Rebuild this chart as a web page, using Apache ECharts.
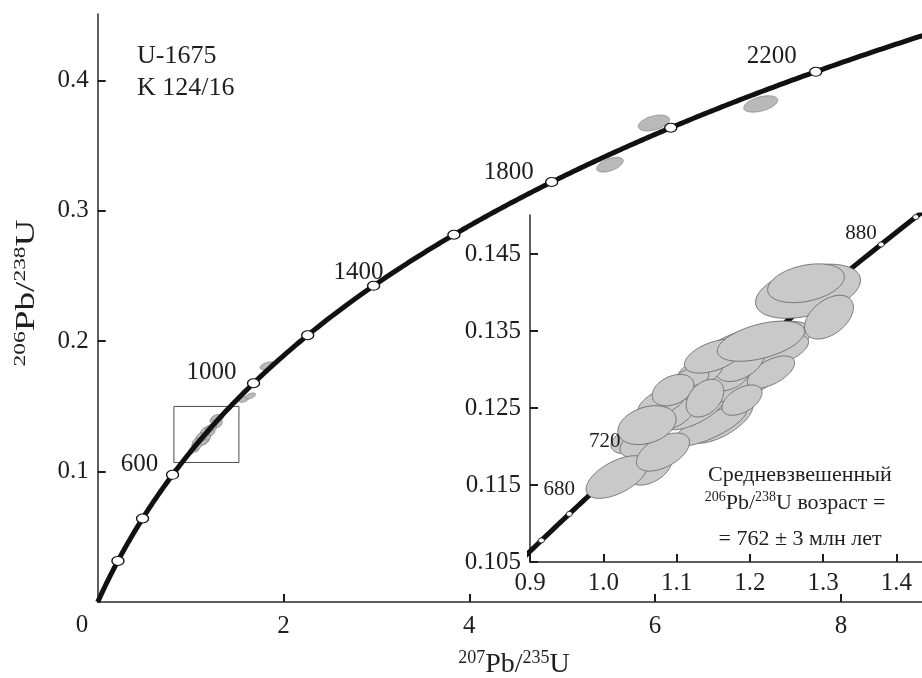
<!DOCTYPE html>
<html>
<head>
<meta charset="utf-8">
<script src="https://cdn.jsdelivr.net/npm/echarts@6/dist/echarts.min.js"></script>
<style>
  html, body { margin: 0; padding: 0; background: #ffffff; }
  #chart { width: 922px; height: 678px; }
</style>
</head>
<body>
<div id="chart"></div>
<script>
// ---- Concordia age marks, Ma (the 800 Ma mark lies under the grain cluster) ----
const mainAges = [200, 400, 600, 1000, 1200, 1400, 1600, 1800, 2000, 2200];
const mainLabelledAges = [600, 1000, 1400, 1800, 2200];
const insetAges = [660, 680, 700, 720, 740, 760, 780, 800, 820, 840, 860, 880, 900];
const insetLabelledAges = [680, 720, 880];

// ---- Zircon analyses inside the enlarged window (drawn back to front) ----
// 207Pb/235U, 206Pb/238U, their 2-sigma errors and the error correlation
const grainX   = [1.2793, 1.2029, 1.2411, 1.1592, 1.1456, 1.1251, 1.2070, 1.1688, 1.2288, 1.1892, 1.1742, 1.1865, 1.1319, 1.1183, 1.1510, 1.1128, 1.0883, 1.0801, 1.0951, 1.0392, 1.0542, 1.0637, 1.0187, 1.0814, 1.0596, 1.1387, 1.2151, 1.3079, 1.2765];
const grainY   = [0.14019, 0.13279, 0.13253, 0.12344, 0.12266, 0.12474, 0.12864, 0.12799, 0.12968, 0.12604, 0.12929, 0.13097, 0.12968, 0.12864, 0.13175, 0.12565, 0.12409, 0.12578, 0.12734, 0.12084, 0.12045, 0.11721, 0.11604, 0.11929, 0.12279, 0.12630, 0.13370, 0.13682, 0.14123];
const grainSx  = [0.0716, 0.0809, 0.0389, 0.0451, 0.0499, 0.0418, 0.0341, 0.0380, 0.0323, 0.0273, 0.0275, 0.0337, 0.0318, 0.0255, 0.0403, 0.0365, 0.0361, 0.0329, 0.0284, 0.0288, 0.0314, 0.0299, 0.0422, 0.0362, 0.0397, 0.0257, 0.0596, 0.0333, 0.0523];
const grainSy  = [0.00352, 0.00351, 0.00207, 0.00300, 0.00261, 0.00255, 0.00226, 0.00233, 0.00210, 0.00197, 0.00204, 0.00251, 0.00206, 0.00170, 0.00220, 0.00244, 0.00217, 0.00201, 0.00204, 0.00176, 0.00191, 0.00222, 0.00277, 0.00247, 0.00253, 0.00245, 0.00261, 0.00284, 0.00252];
const grainRho = [0.41, 0.63, 0.52, 0.63, 0.76, 0.68, 0.64, 0.54, 0.58, 0.49, 0.43, 0.43, 0.47, 0.44, 0.49, 0.63, 0.46, 0.55, 0.34, 0.38, 0.39, 0.44, 0.57, 0.51, 0.30, 0.37, 0.49, 0.45, 0.33];

// ---- Older grains, outside the enlarged window ----
const oldX   = [1.828, 1.575, 1.645, 5.514, 5.987, 7.137];
const oldY   = [0.1811, 0.1554, 0.1581, 0.3354, 0.3674, 0.3820];
const oldSx  = [0.081, 0.054, 0.054, 0.143, 0.168, 0.183];
const oldSy  = [0.0031, 0.0023, 0.0023, 0.0057, 0.0061, 0.0063];
const oldRho = [0.43, 0.50, 0.50, 0.52, 0.42, 0.46];

// ---- Frame of the enlarged window on the main plot ----
const windowX = [0.82, 1.52];
const windowY = [0.107, 0.150];

// ---- Axis ticks ----
const mainXTicks = [2, 4, 6, 8];
const mainYTicks = [0.1, 0.2, 0.3, 0.4];
const insetXTicks = [0.9, 1.0, 1.1, 1.2, 1.3, 1.4];
const insetYTicks = [0.105, 0.115, 0.125, 0.135, 0.145];

// Decay constants (per Ma) defining the Wetherill concordia
const L238 = 1.55125e-4;
const L235 = 9.8485e-4;
function concordia(t) {
  return [Math.exp(L235 * t) - 1, Math.exp(L238 * t) - 1];
}
function curve(t0, t1, step) {
  const pts = [];
  for (let t = t0; t <= t1 + 1e-9; t += step) pts.push(concordia(t));
  return pts;
}

const serif = "'Liberation Serif', 'Times New Roman', serif";
const ink = '#1e1e1e';

function zip5(a, b, c, d, e) {
  return a.map((v, i) => [v, b[i], c[i], d[i], e[i]]);
}
const grains = zip5(grainX, grainY, grainSx, grainSy, grainRho);
const oldGrains = zip5(oldX, oldY, oldSx, oldSy, oldRho);

// Error ellipse from centre, 2-sigma half-extents and correlation
function ellipseRenderer(fill, stroke, lw) {
  return function (params, api) {
    const cx = api.value(0), cy = api.value(1);
    const sx = api.value(2), sy = api.value(3), r = api.value(4);
    const k = Math.sqrt(1 - r * r);
    const pts = [];
    const n = 90;
    for (let i = 0; i < n; i++) {
      const th = (i / n) * Math.PI * 2;
      const c = Math.cos(th), s = Math.sin(th);
      pts.push(api.coord([cx + sx * c, cy + sy * (r * c + k * s)]));
    }
    return {
      type: 'polygon',
      shape: { points: pts },
      style: { fill: fill, stroke: stroke, lineWidth: lw }
    };
  };
}

// Label placement around the age marks
const mainLabelOffset = { 600: [-33, -10], 1000: [-42, -11], 1400: [-15, -13], 1800: [-43, -10], 2200: [-44, -15] };
const insetLabelOffset = { 680: [-10, -24], 720: [-22, -19], 880: [-20, -11] };

function ageLabelData(ages, offsets) {
  return ages.map(a => ({
    value: concordia(a).concat([a]),
    label: { offset: offsets[a] }
  }));
}

function valueAxis(gridIndex, min, max, ticks, digits, position, margin) {
  return {
    type: 'value',
    gridIndex: gridIndex,
    position: position,
    min: min,
    max: max,
    splitLine: { show: false },
    axisLine: { show: true, onZero: false, lineStyle: { color: '#2a2a2a', width: 1.5 } },
    axisTick: { show: true, inside: true, length: 8, customValues: ticks, lineStyle: { color: ink, width: 2 } },
    axisLabel: {
      show: true,
      customValues: ticks,
      formatter: v => Number(v).toFixed(digits),
      fontFamily: serif,
      fontSize: 25,
      color: ink,
      margin: margin
    }
  };
}

function ageLabelSeries(axisIndex, ages, offsets, size) {
  return {
    type: 'scatter', xAxisIndex: axisIndex, yAxisIndex: axisIndex, z: 8,
    symbol: 'circle', symbolSize: 0.1, silent: true,
    itemStyle: { color: 'rgba(0,0,0,0)', opacity: 1 },
    label: {
      show: true, position: 'inside',
      formatter: p => String(p.value[2]),
      fontFamily: serif, fontSize: size, color: ink, opacity: 1, textBorderWidth: 0
    },
    data: ageLabelData(ages, offsets)
  };
}

const chart = echarts.init(document.getElementById('chart'), null, { renderer: 'canvas' });

chart.setOption({
  animation: false,
  backgroundColor: '#ffffff',
  grid: [
    { left: 97.7, top: 14, right: 0, bottom: 76, containLabel: false, outerBoundsMode: 'none' },
    { left: 530, top: 215, right: 0, bottom: 116, containLabel: false, outerBoundsMode: 'none' }
  ],
  xAxis: [
    valueAxis(0, 0, 8.873, mainXTicks, 0, 'bottom', 12),
    valueAxis(1, 0.9, 1.4348, insetXTicks, 1, 'bottom', 9)
  ],
  yAxis: [
    valueAxis(0, 0, 0.451, mainYTicks, 1, 'left', 9),
    valueAxis(1, 0.105, 0.1501, insetYTicks, 3, 'left', 9)
  ],
  series: [
    // ---- main plot ----
    {
      type: 'custom', xAxisIndex: 0, yAxisIndex: 0, z: 2,
      encode: { x: 0, y: 1 },
      renderItem: ellipseRenderer('#b9b9b9', '#767676', 0.6),
      data: grains.concat(oldGrains)
    },
    {
      type: 'line', xAxisIndex: 0, yAxisIndex: 0, z: 3,
      showSymbol: false, silent: true,
      lineStyle: { color: '#4a4a4a', width: 1 },
      data: [[windowX[0], windowY[0]], [windowX[1], windowY[0]], [windowX[1], windowY[1]], [windowX[0], windowY[1]], [windowX[0], windowY[0]]]
    },
    {
      type: 'line', xAxisIndex: 0, yAxisIndex: 0, z: 4,
      showSymbol: false, silent: true, clip: true,
      lineStyle: { color: '#111111', width: 5 },
      data: curve(0, 2400, 5)
    },
    {
      type: 'scatter', xAxisIndex: 0, yAxisIndex: 0, z: 5,
      symbol: 'circle', symbolSize: [12, 9],
      itemStyle: { color: '#ffffff', borderColor: '#111111', borderWidth: 1.2, opacity: 1 },
      data: mainAges.map(concordia)
    },
    ageLabelSeries(0, mainLabelledAges, mainLabelOffset, 25),
    // ---- enlarged window ----
    {
      type: 'line', xAxisIndex: 1, yAxisIndex: 1, z: 2,
      showSymbol: false, silent: true, clip: true,
      lineStyle: { color: '#111111', width: 5 },
      data: curve(640, 910, 2)
    },
    {
      type: 'scatter', xAxisIndex: 1, yAxisIndex: 1, z: 3,
      symbol: 'circle', symbolSize: [6, 5],
      itemStyle: { color: '#ffffff', borderColor: '#111111', borderWidth: 0.8, opacity: 1 },
      data: insetAges.map(concordia)
    },
    {
      type: 'custom', xAxisIndex: 1, yAxisIndex: 1, z: 5,
      encode: { x: 0, y: 1 },
      renderItem: ellipseRenderer('#c9c9c9', '#5f5f5f', 0.8),
      data: grains
    },
    ageLabelSeries(1, insetLabelledAges, insetLabelOffset, 21)
  ],
  graphic: [
    { type: 'text', x: 82, y: 625, z: 10,
      style: { text: '0', font: '25px ' + serif, fill: ink, align: 'center', verticalAlign: 'middle' } },
    { type: 'text', x: 137, y: 56, z: 10,
      style: { text: 'U-1675', font: '26px ' + serif, fill: ink, align: 'left', verticalAlign: 'middle' } },
    { type: 'text', x: 137, y: 88, z: 10,
      style: { text: 'K 124/16', font: '26px ' + serif, fill: ink, align: 'left', verticalAlign: 'middle' } },
    { type: 'text', x: 514, y: 665, z: 10,
      style: {
        text: '{s|207}{m|Pb/}{s|235}{m|U}', align: 'center', verticalAlign: 'middle',
        rich: {
          s: { fontFamily: serif, fontSize: 18, fill: ink, verticalAlign: 'top', lineHeight: 31 },
          m: { fontFamily: serif, fontSize: 28, fill: ink, lineHeight: 31 }
        }
      } },
    { type: 'text', x: 27, y: 293, z: 10, rotation: Math.PI / 2, scaleX: 1.38,
      style: {
        text: '{s|206}{m|Pb/}{s|238}{m|U}', align: 'center', verticalAlign: 'middle',
        rich: {
          s: { fontFamily: serif, fontSize: 17, fill: ink, verticalAlign: 'top', lineHeight: 30 },
          m: { fontFamily: serif, fontSize: 27, fill: ink, lineHeight: 30 }
        }
      } },
    { type: 'text', x: 800, y: 475, z: 10,
      style: { text: 'Средневзвешенный', font: '22px ' + serif, fill: ink, align: 'center', verticalAlign: 'middle' } },
    { type: 'text', x: 795, y: 503, z: 10,
      style: {
        text: '{s|206}{m|Pb/}{s|238}{m|U возраст =}', align: 'center', verticalAlign: 'middle',
        rich: {
          s: { fontFamily: serif, fontSize: 14, fill: ink, verticalAlign: 'top', lineHeight: 26 },
          m: { fontFamily: serif, fontSize: 22, fill: ink, lineHeight: 26 }
        }
      } },
    { type: 'text', x: 800, y: 539, z: 10,
      style: { text: '= 762 ± 3 млн лет', font: '22px ' + serif, fill: ink, align: 'center', verticalAlign: 'middle' } }
  ]
});
</script>
</body>
</html>
